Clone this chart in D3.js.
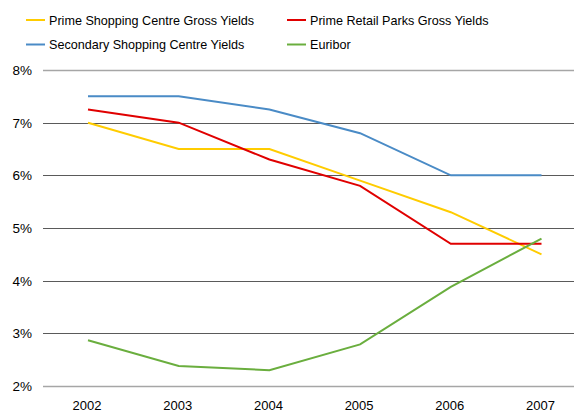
<!DOCTYPE html>
<html>
<head>
<meta charset="utf-8">
<script src="https://cdn.jsdelivr.net/npm/d3@7"></script>
<style>
  html, body { margin: 0; padding: 0; background: #fff; }
  svg { display: block; font-family: "Liberation Sans", Arial, sans-serif; }
</style>
</head>
<body>
<svg id="chart" width="574" height="412"></svg>
<script>
// Years on the x axis
const years = ["2002", "2003", "2004", "2005", "2006", "2007"];

// Yields and rates, in percent
const primeShopping = [7.0, 6.5, 6.5, 5.9, 5.3, 4.5];
const primeRetailParks = [7.25, 7.0, 6.3, 5.8, 4.7, 4.7];
const secondaryShopping = [7.5, 7.5, 7.25, 6.8, 6.0, 6.0];
const euribor = [2.87, 2.38, 2.30, 2.79, 3.88, 4.80];

// Y axis ticks
const yTicks = [2, 3, 4, 5, 6, 7, 8];

const seriesNames = [
  "Prime Shopping Centre Gross Yields",
  "Prime Retail Parks Gross Yields",
  "Secondary Shopping Centre Yields",
  "Euribor"
];
const seriesColors = ["#FFCC00", "#E00000", "#4A8BC6", "#6AAE3E"];
const seriesValues = [primeShopping, primeRetailParks, secondaryShopping, euribor];

const svg = d3.select("#chart");

const x = d3.scalePoint().domain(years).range([88, 541.5]);
const y = d3.scaleLinear().domain([2, 8]).range([386, 70]);

// Horizontal gridlines
svg.append("g")
  .selectAll("line")
  .data(yTicks)
  .join("line")
  .attr("x1", 43).attr("x2", 574)
  .attr("y1", d => Math.round(y(d)) + 0.5)
  .attr("y2", d => Math.round(y(d)) + 0.5)
  .attr("stroke", d => (d === 8 || d === 2) ? "#a6a6a6" : "#5a5a5a")
  .attr("stroke-width", d => (d === 8 || d === 2) ? 1.5 : 1);

// Y axis labels
svg.append("g")
  .selectAll("text")
  .data(yTicks)
  .join("text")
  .attr("x", 32)
  .attr("y", d => y(d))
  .attr("dy", "0.36em")
  .attr("text-anchor", "end")
  .attr("font-size", 13.5)
  .attr("fill", "#000")
  .text(d => d + "%");

// X axis labels
svg.append("g")
  .selectAll("text")
  .data(years)
  .join("text")
  .attr("x", d => x(d) - 1)
  .attr("y", 409.5)
  .attr("text-anchor", "middle")
  .attr("font-size", 13)
  .attr("fill", "#000")
  .text(d => d);

// Series lines
const line = d3.line()
  .x((d, i) => x(years[i]))
  .y(d => y(d));

svg.append("g")
  .selectAll("path")
  .data(seriesValues)
  .join("path")
  .attr("d", d => line(d))
  .attr("fill", "none")
  .attr("stroke", (d, i) => seriesColors[i])
  .attr("stroke-width", 2);

// Legend
const legendPos = [[26, 20], [287, 20], [26, 44.5], [287, 44.5]];
const legend = svg.append("g")
  .selectAll("g")
  .data(seriesNames)
  .join("g")
  .attr("transform", (d, i) => `translate(${legendPos[i][0]},${legendPos[i][1]})`);

legend.append("line")
  .attr("x1", 0).attr("x2", 19)
  .attr("y1", 0).attr("y2", 0)
  .attr("stroke", (d, i) => seriesColors[i])
  .attr("stroke-width", 2);

legend.append("text")
  .attr("x", 23)
  .attr("dy", "0.36em")
  .attr("font-size", 12.6)
  .attr("fill", "#000")
  .text(d => d);
</script>
</body>
</html>
